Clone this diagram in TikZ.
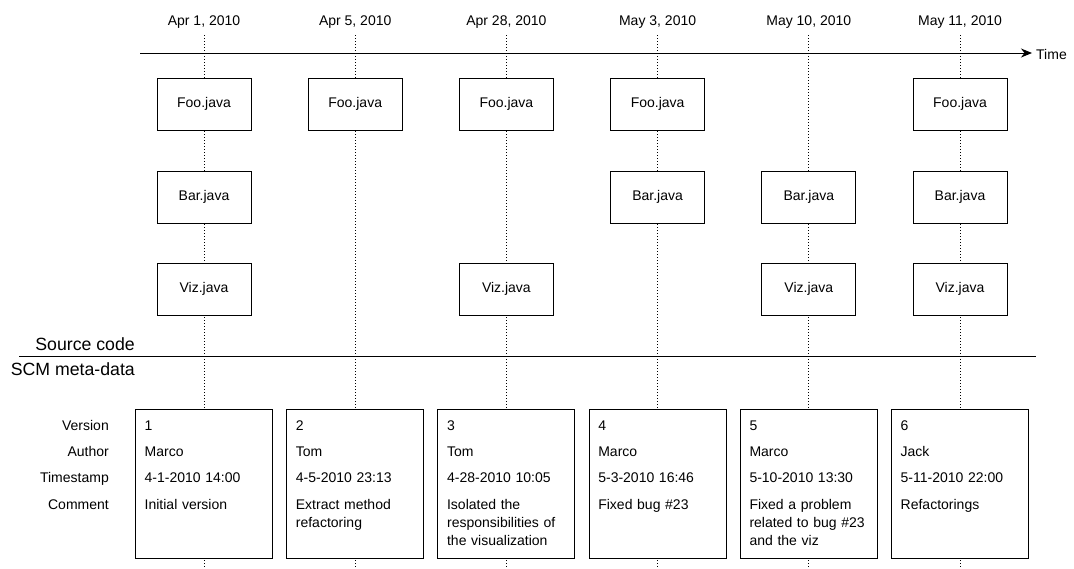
\documentclass[tikz,border=0pt]{standalone}
\usepackage{fontspec}
\setmainfont{Liberation Sans}
\usetikzlibrary{arrows.meta}
\begin{document}
\begin{tikzpicture}[x=1pt,y=-1pt,
  every node/.style={font=\fontsize{14}{18}\selectfont, inner sep=0pt},
  bigtext/.style={font=\fontsize{17.7}{20}\selectfont},
  filebox/.style={draw, fill=white, line width=0.9pt, minimum width=94pt, minimum height=52pt},
  metabox/.style={draw, fill=white, line width=0.9pt, minimum width=137pt, minimum height=149pt},
  lifeline/.style={line width=1pt, dash pattern=on 1pt off 2pt},
  axisline/.style={line width=1pt, -{Stealth[length=11pt,width=9pt,inset=3.5pt]}},
  rowlabel/.style={anchor=base east},
  rowvalue/.style={anchor=base west, align=left, text width=126pt}]
\useasboundingbox (0,0) rectangle (1074,568);

% dates and dotted life lines of each version
\foreach \i/\x/\d in {1/204/{Apr 1, 2010}, 2/355.2/{Apr 5, 2010}, 3/506.4/{Apr 28, 2010},
                      4/657.6/{May 3, 2010}, 5/808.8/{May 10, 2010}, 6/960/{May 11, 2010}} {
  \node[anchor=base] (d\i) at (\x,25) {\d};
  \coordinate (top\i) at (\x,35);
  \coordinate (bot\i) at (\x,568);
  \draw[lifeline] (top\i) -- (bot\i);
}

% time axis
\coordinate (tstart) at (140,53);
\coordinate (tend) at (1032,53);
\draw[axisline] (tstart) -- (tend);
\node[anchor=base west] (time) at (1036,59) {Time};

% separator between source code and meta-data
\coordinate (sepl) at (19,356);
\coordinate (sepr) at (1036,356);
\draw[line width=0.9pt] (sepl) -- (sepr);
\node[bigtext, anchor=base east] (src) at (135,350) {Source code};
\node[bigtext, anchor=base east] (scm) at (135,375) {SCM meta-data};

% source files touched by each version
\foreach \x/\y/\n/\t in {204/104/f1/Foo, 355.2/104/f2/Foo, 506.4/104/f3/Foo, 657.6/104/f4/Foo, 960/104/f6/Foo,
                         204/197/b1/Bar, 657.6/197/b4/Bar, 808.8/197/b5/Bar, 960/197/b6/Bar,
                         204/289/v1/Viz, 506.4/289/v3/Viz, 808.8/289/v5/Viz, 960/289/v6/Viz} {
  \node[filebox] (\n) at (\x,\y) {\t.java};
}

% row labels
\node[rowlabel] (lver) at (109,430) {Version};
\node[rowlabel] (laut) at (109,456.3) {Author};
\node[rowlabel] (lts)  at (109,482.6) {Timestamp};
\node[rowlabel] (lcom) at (109,509) {Comment};

% meta-data records
\foreach \i/\x/\a/\t/\c in {
  1/204/Marco/{4-1-2010 14:00}/{Initial version},
  2/355.2/Tom/{4-5-2010 23:13}/{Extract method\\refactoring},
  3/506.4/Tom/{4-28-2010 10:05}/{Isolated the\\responsibilities of\\the visualization},
  4/657.6/Marco/{5-3-2010 16:46}/{Fixed bug \#23},
  5/808.8/Marco/{5-10-2010 13:30}/{Fixed a problem\\related to bug \#23\\and the viz},
  6/960/Jack/{5-11-2010 22:00}/{Refactorings}} {
  \node[metabox] (m\i) at (\x,483.5) {};
  \node[rowvalue] (mv\i) at (\x-59.5,430) {\i};
  \node[rowvalue] (ma\i) at (\x-59.5,456.3) {\a};
  \node[rowvalue] (mt\i) at (\x-59.5,482.6) {\t};
  \node[rowvalue] (mc\i) at (\x-59.5,509) {\c};
}
\end{tikzpicture}
\end{document}
